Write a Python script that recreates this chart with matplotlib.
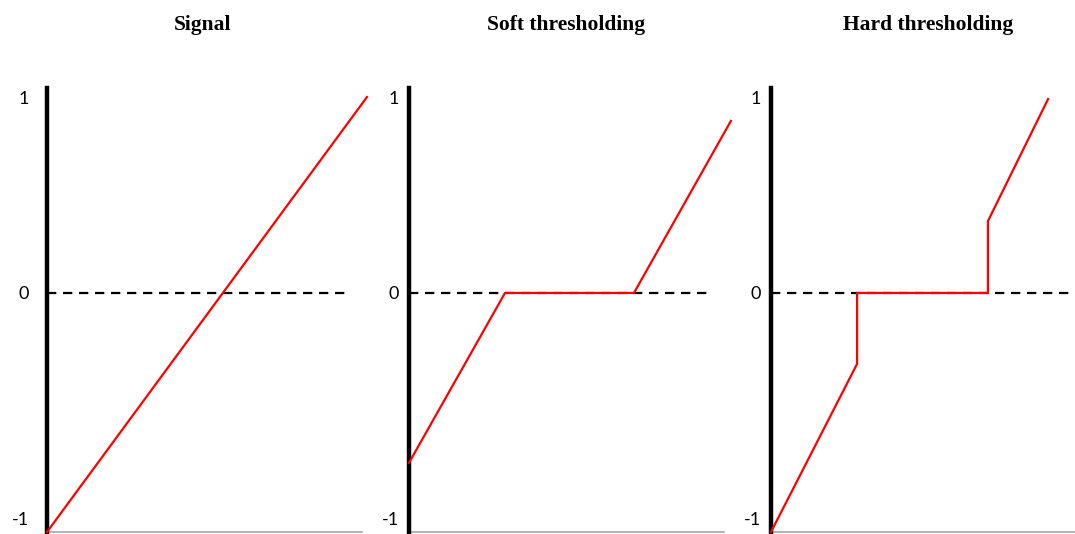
import numpy as np
import matplotlib
matplotlib.use("Agg")
import matplotlib.pyplot as plt

# panel titles
titles = ["Signal", "Soft thresholding", "Hard thresholding"]

# piecewise-linear curves, x runs 0..1 across each panel
signal_x = [0.0, 1.0]
signal_y = [-1.22, 1.0]

soft_x = [0.0, 0.30, 0.703, 1.006]
soft_y = [-0.867, 0.0, 0.0, 0.878]

hard_x = [0.0, 0.269, 0.269, 0.678, 0.678, 0.866]
hard_y = [-1.22, -0.362, 0.0, 0.0, 0.367, 0.99]

ytick_pos = [1.0, 0.0, -1.15]
ytick_labels = ["1", "0", "-1"]

curves = [(signal_x, signal_y), (soft_x, soft_y), (hard_x, hard_y)]

W, H = 1075, 534
fig = plt.figure(figsize=(W / 100, H / 100), dpi=100)

lefts = [47, 409, 771]
pads = [13, 7, 7]
title_centers = [203, 566, 928]

for i, (xs, ys) in enumerate(curves):
    ax = fig.add_axes([lefts[i] / W, 2 / H, 320 / W, 444 / H])
    ax.set_xlim(0, 1)
    ax.set_ylim(-1.22, 1.046)

    for s in ["top", "right", "bottom"]:
        ax.spines[s].set_visible(False)
    ax.spines["left"].set_linewidth(3.2)
    ax.spines["left"].set_color("black")

    # thin grey baseline
    ax.plot([0, 0.984], [-1.22, -1.22], color="#a6a6a6", lw=1.2, clip_on=False, zorder=1)
    # dashed zero line
    ax.plot([0, 0.95], [0, 0], color="black", lw=1.6, dashes=(4.2, 3.0), zorder=2)

    ax.plot(xs, ys, color="#ff0000", lw=1.6, clip_on=False, zorder=3, solid_joinstyle="miter")

    ax.set_xticks([])
    ax.set_yticks(ytick_pos)
    ax.set_yticklabels(ytick_labels, fontfamily="Lato", fontsize=13)
    ax.tick_params(axis="y", length=0, pad=pads[i])

    fig.text(title_centers[i] / W, 1 - 25 / H, titles[i], ha="center", va="center",
             fontfamily="Liberation Serif", fontweight="bold", fontsize=15.5)

fig.savefig("out.png", dpi=100)
